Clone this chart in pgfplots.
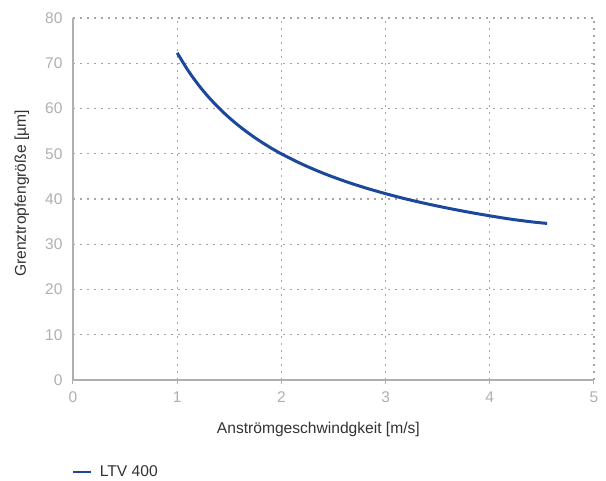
\documentclass[border=0pt]{standalone}
\usepackage{fontspec}
\setmainfont{Liberation Sans}
\usepackage{pgfplots}
\pgfplotsset{compat=1.18}
\definecolor{curve}{RGB}{28,72,155}
\definecolor{ticklbl}{RGB}{175,175,175}
\definecolor{axisgray}{RGB}{175,175,175}
\definecolor{gridgray}{RGB}{165,165,165}
\definecolor{lbl}{RGB}{50,50,50}
\begin{document}
\begin{tikzpicture}
\begin{axis}[
  at={(0pt,0pt)}, anchor=origin,
  scale only axis,
  width=521pt, height=362pt,
  xmin=0, xmax=5, ymin=0, ymax=80,
  xtick={0,1,2,3,4,5},
  ytick={0,10,20,30,40,50,60,70,80},
  axis x line*=bottom, axis y line*=left,
  axis line style={draw=axisgray, line width=1.3pt, -},
  grid=major,
  major grid style={draw=gridgray, line width=1.1pt, dash pattern=on 2pt off 5pt},
  xtick style={draw=axisgray, line width=1pt},
  ytick style={draw=none},
  tick align=outside,
  major tick length=4pt,
  /pgf/number format/assume math mode=true,
  ticklabel style={font=\fontsize{15.5}{17}\selectfont, text=ticklbl},
  xticklabel style={yshift=-4pt},
  yticklabel style={xshift=-3pt},
  xlabel={Anströmgeschwindgkeit [m/s]},
  ylabel={Grenztropfengröße [µm]},
  label style={font=\fontsize{15.6}{18}\selectfont, text=lbl},
  xlabel style={at={(axis description cs:0.471,-0.138)}, anchor=center},
  ylabel style={at={(axis description cs:-0.098,0.515)}, anchor=center},
  legend style={at={(rel axis cs:0,0)}, anchor=west, xshift=-4pt, yshift=-92pt,
    draw=none, fill=none, font=\fontsize{15.6}{18}\selectfont, text=lbl},
  legend cell align=left,
  legend image code/.code={\draw[#1, line width=2.5pt] (0pt,0pt) -- (18pt,0pt); \path (23pt,0pt);},
]
\addplot[curve, line width=3pt, smooth] coordinates {
(1.0,72.3) (1.1,68.55) (1.2,65.33) (1.3,62.55) (1.4,60.11) (1.5,57.95)
(1.6,56.02) (1.7,54.29) (1.8,52.71) (1.9,51.28) (2.0,49.98) (2.2,47.68)
(2.4,45.71) (2.6,44.00) (2.8,42.50) (3.0,41.18) (3.2,39.98) (3.4,38.92)
(3.6,37.96) (3.8,37.08) (4.0,36.28) (4.2,35.55) (4.4,34.95) (4.55,34.6)
};
\addlegendentry{LTV 400}
\end{axis}
\pgfresetboundingbox
\path[use as bounding box] (-73pt,-101pt) rectangle (533pt,380pt);
\end{tikzpicture}
\end{document}
